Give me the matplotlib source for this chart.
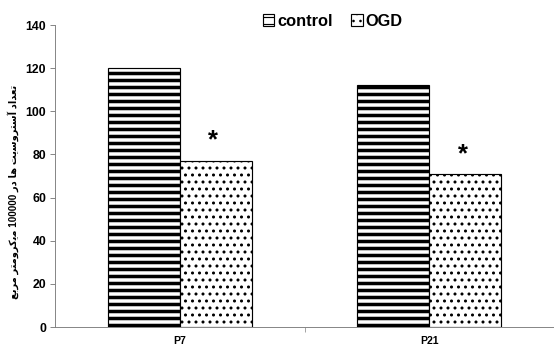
import numpy as np
import matplotlib
matplotlib.use("Agg")
import matplotlib.pyplot as plt

# data
groups = ["P7", "P21"]
control = [120, 112]
ogd = [77, 71]
star_y = [86.5, 80]
yticks = [0, 20, 40, 60, 80, 100, 120, 140]

# persian y label, shaped by hand (presentation forms, logical order)
words = [
    "\uFE97\uFECC\uFEAA\uFE8D\uFEA9",                          # تعداد
    "\uFE81\uFEB3\uFE98\uFEAE\uFEED\uFEB3\uFBFE\uFE96",        # آستروسیت
    "\uFEEB\uFE8E",                                            # ها
    "\uFEA9\uFEAD",                                            # در
    "100000",
    "\uFEE3\uFBFE\uFB90\uFEAE\uFEED\uFEE3\uFE98\uFEAE",        # میکرومتر
    "\uFEE3\uFEAE\uFE91\uFECA",                                # مربع
]
ylabel = " ".join(w if w.isdigit() else w[::-1] for w in reversed(words))

plt.rcParams['font.family'] = ['Liberation Sans', 'DejaVu Sans']
plt.rcParams['font.weight'] = 'bold'
plt.rcParams['hatch.color'] = 'black'

DPI = 84
fig = plt.figure(figsize=(554 / DPI, 352 / DPI), dpi=DPI)
ax = fig.add_axes([55 / 554, 25 / 352, 1 - 55 / 554, 302 / 352])

x = np.arange(len(groups))
w = 0.288
with plt.rc_context({'hatch.linewidth': 3.0}):
    b1 = ax.bar(x - w / 2, control, w, color='white', edgecolor='black',
                hatch='--', linewidth=1.0, label='control')
with plt.rc_context({'hatch.linewidth': 1.4}):
    b2 = ax.bar(x + w / 2, ogd, w, color='white', edgecolor='black',
                hatch='..', linewidth=1.0, label='OGD')

for i in range(len(groups)):
    ax.text(x[i] + w / 2 - 0.01, star_y[i], '*', ha='center', va='center',
            fontsize=22, fontweight='bold')

ax.set_xlim(-0.5, 1.5)
ax.set_ylim(0, 140)
ax.set_yticks(yticks)
ax.set_xticks(x)
ax.set_xticklabels(groups)
ax.set_xticks([0.5, 1.5], minor=True)
ax.tick_params(axis='x', which='major', length=0, pad=8, labelsize=9)
ax.tick_params(axis='x', which='minor', length=4, direction='out', color='#808080')
ax.tick_params(axis='y', length=4, direction='out', labelsize=10.5, color='#808080')
for s in ['top', 'right']:
    ax.spines[s].set_visible(False)
ax.spines['left'].set_color('#808080')
ax.spines['bottom'].set_color('#808080')

fig.text(13 / 554, 0.5 - 16 / 352, ylabel, rotation=90, ha='center', va='center',
         fontsize=8.5, fontweight='bold')

fig.legend(handles=[b1, b2], loc='center', bbox_to_anchor=(333 / 554, 1 - 21 / 352),
           ncol=2, frameon=False, fontsize=14, handlelength=0.7, handleheight=0.7,
           handletextpad=0.2, columnspacing=1.1)

fig.savefig('out.png', dpi=DPI)
